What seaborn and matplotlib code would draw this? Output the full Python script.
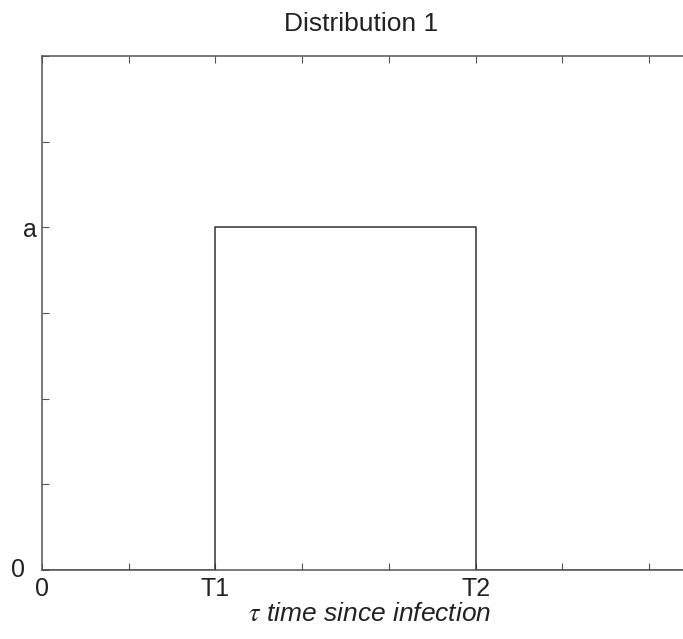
import matplotlib
matplotlib.use("Agg")
import matplotlib.pyplot as plt
import seaborn as sns
import pandas as pd

# Data (in tick units: T1 = 2, T2 = 5, a = 4)
x_vals = [0, 2, 2, 5, 5, 8]
y_vals = [0, 0, 4, 4, 0, 0]
x_tick_pos = [0, 1, 2, 3, 4, 5, 6, 7, 8]
x_tick_labels = ["0", "", "T1", "", "", "T2", "", "", ""]
y_tick_pos = [0, 1, 2, 3, 4, 5, 6]
y_tick_labels = ["", "", "", "", "a", "", ""]
y_zero_label = "0"
title = "Distribution 1"
xlabel = r"$\tau$ time since infection"

sns.set_theme(style="white")
plt.rcParams["font.family"] = ["Liberation Sans", "DejaVu Sans"]
plt.rcParams["mathtext.fontset"] = "stix"

fig = plt.figure(figsize=(6.83, 6.39), dpi=100)
ax = fig.add_axes([0.0615, 0.108, 1.016, 0.804])

df = pd.DataFrame({"x": x_vals, "y": y_vals})
sns.lineplot(data=df, x="x", y="y", sort=False, estimator=None,
             color="#333333", linewidth=1.1, ax=ax)

ax.set_xlim(0, 8)
ax.set_ylim(0, 6)
ax.set_xticks(x_tick_pos)
ax.set_xticklabels(x_tick_labels)
ax.set_yticks(y_tick_pos)
ax.set_yticklabels(y_tick_labels)
ax.tick_params(axis="both", direction="in", length=5, width=0.8,
               color="#555555", labelsize=18, labelcolor="#222222",
               top=True, right=True, bottom=True, left=True)
ax.tick_params(axis="x", pad=5)
ax.tick_params(axis="y", pad=4)
for s in ax.spines.values():
    s.set_color("#555555")
    s.set_linewidth(1.1)

# y label "0" sits further left, as in the reference
ax.text(-0.0245, y_tick_pos[0], y_zero_label, transform=ax.get_yaxis_transform(),
        ha="right", va="center", fontsize=18, color="#222222")

ax.set_xlabel(xlabel, fontsize=19, fontstyle="italic", color="#222222")
ax.xaxis.set_label_coords(0.4726, -0.063)
ax.set_ylabel("")
ax.set_title(title, fontsize=19, color="#222222", pad=18)
ax.title.set_position((0.4597, 1.0))

fig.savefig("out.png", dpi=100)
